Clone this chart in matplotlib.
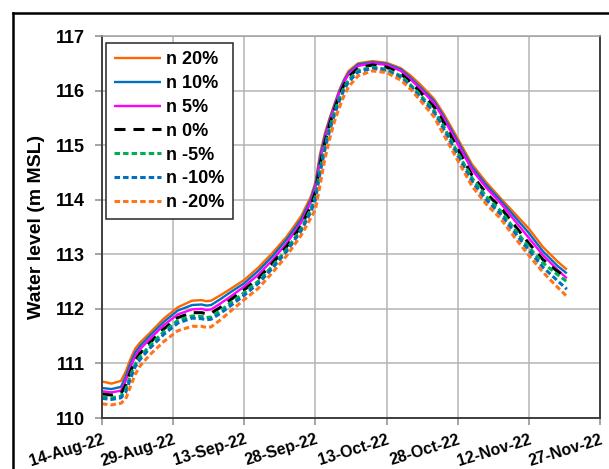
import numpy as np
import matplotlib
matplotlib.use("Agg")
import matplotlib.pyplot as plt
from matplotlib.lines import Line2D

plt.rcParams['font.family'] = ['Liberation Sans', 'DejaVu Sans']
plt.rcParams['font.weight'] = 'bold'

start_date = np.datetime64('2022-08-14')
days = [0, 2, 4, 5, 6, 7, 8, 10, 13, 16, 19, 21, 22, 23, 25, 27, 30, 33, 36, 39,
        42, 44, 45, 46, 47, 48, 49, 50, 51, 52, 54, 57, 60, 63, 65, 67, 70, 72, 75, 78,
        81, 84, 87, 90, 93, 96, 98]

n_p20 = [110.67, 110.63, 110.68, 110.85, 111.08, 111.27, 111.38, 111.55, 111.82, 112.03,
         112.15, 112.16, 112.14, 112.15, 112.25, 112.36, 112.53, 112.76, 113.03, 113.33,
         113.70, 114.05, 114.32, 114.85, 115.22, 115.50, 115.75, 116.00, 116.20, 116.36,
         116.50, 116.54, 116.51, 116.41, 116.28, 116.12, 115.85, 115.58, 115.12, 114.65,
         114.32, 114.03, 113.75, 113.47, 113.13, 112.87, 112.72]
n_p10 = [110.55, 110.53, 110.57, 110.76, 111.00, 111.20, 111.32, 111.50, 111.76, 111.97,
         112.07, 112.08, 112.06, 112.07, 112.18, 112.30, 112.47, 112.70, 112.97, 113.28,
         113.64, 114.00, 114.28, 114.80, 115.17, 115.47, 115.73, 115.98, 116.18, 116.33,
         116.48, 116.52, 116.49, 116.39, 116.24, 116.07, 115.81, 115.53, 115.07, 114.60,
         114.27, 113.99, 113.69, 113.39, 113.05, 112.79, 112.65]
n_p5 = [110.49, 110.47, 110.50, 110.68, 110.93, 111.13, 111.26, 111.44, 111.70, 111.90,
        111.99, 112.00, 111.98, 111.99, 112.10, 112.22, 112.41, 112.63, 112.90, 113.21,
        113.58, 113.95, 114.22, 114.73, 115.12, 115.43, 115.70, 115.95, 116.15, 116.30,
        116.45, 116.50, 116.47, 116.36, 116.21, 116.04, 115.77, 115.49, 115.02, 114.55,
        114.22, 113.94, 113.62, 113.30, 112.98, 112.72, 112.56]
n_0 = [110.44, 110.42, 110.45, 110.60, 110.85, 111.05, 111.18, 111.37, 111.63, 111.84,
       111.93, 111.93, 111.91, 111.92, 112.03, 112.16, 112.35, 112.56, 112.84, 113.15,
       113.52, 113.88, 114.14, 114.65, 115.05, 115.38, 115.65, 115.90, 116.10, 116.25,
       116.41, 116.47, 116.43, 116.31, 116.16, 115.98, 115.70, 115.42, 114.93, 114.45,
       114.12, 113.86, 113.53, 113.20, 112.90, 112.69, 112.57]
n_m5 = [110.39, 110.37, 110.40, 110.52, 110.78, 110.99, 111.12, 111.32, 111.58, 111.79,
        111.87, 111.86, 111.84, 111.85, 111.97, 112.10, 112.30, 112.51, 112.79, 113.10,
        113.47, 113.82, 114.06, 114.58, 114.98, 115.32, 115.60, 115.85, 116.05, 116.20,
        116.37, 116.43, 116.39, 116.27, 116.11, 115.93, 115.64, 115.35, 114.86, 114.40,
        114.06, 113.80, 113.46, 113.13, 112.84, 112.63, 112.50]
n_m10 = [110.36, 110.34, 110.37, 110.47, 110.72, 110.94, 111.07, 111.27, 111.53, 111.74,
         111.83, 111.82, 111.80, 111.81, 111.92, 112.05, 112.25, 112.47, 112.75, 113.06,
         113.43, 113.77, 114.00, 114.50, 114.92, 115.27, 115.55, 115.80, 116.01, 116.16,
         116.34, 116.41, 116.37, 116.24, 116.08, 115.89, 115.60, 115.30, 114.80, 114.34,
         114.00, 113.74, 113.40, 113.07, 112.76, 112.52, 112.36]
n_m20 = [110.26, 110.24, 110.27, 110.35, 110.58, 110.80, 110.95, 111.15, 111.40, 111.60,
         111.68, 111.68, 111.66, 111.67, 111.80, 111.95, 112.17, 112.38, 112.67, 112.98,
         113.35, 113.66, 113.82, 114.28, 114.75, 115.12, 115.43, 115.68, 115.90, 116.07,
         116.27, 116.36, 116.33, 116.19, 116.03, 115.83, 115.52, 115.20, 114.72, 114.25,
         113.92, 113.66, 113.31, 112.98, 112.67, 112.40, 112.23]

series_labels = ['n 20%', 'n 10%', 'n 5%', 'n 0%', 'n -5%', 'n -10%', 'n -20%']
series_values = [n_p20, n_p10, n_p5, n_0, n_m5, n_m10, n_m20]
series_colors = ['#FF6600', '#0070C0', '#FF00FF', '#000000', '#00B050', '#0070C0', '#FF7518']
series_styles = ['-', '-', '-', (0, (3.6, 2.6)), (0, (1.8, 1.0)), (0, (1.8, 1.0)), (0, (1.8, 1.0))]

xtick_labels = ['14-Aug-22', '29-Aug-22', '13-Sep-22', '28-Sep-22', '13-Oct-22',
                '28-Oct-22', '12-Nov-22', '27-Nov-22']
ytick_values = [110, 111, 112, 113, 114, 115, 116, 117]

W, H = 609, 469
fig = plt.figure(figsize=(W / 100, H / 100), dpi=100)
ax = fig.add_axes([102 / W, 1 - 418 / H, (600 - 102) / W, (418 - 36) / H])

dates = start_date + np.array(days).astype('timedelta64[D]')
for vals, lab, col, ls in zip(series_values, series_labels, series_colors, series_styles):
    lw = 1.7 if ls == '-' else 2.2
    ax.plot(dates, vals, color=col, linestyle=ls, lw=lw, label=lab,
            solid_capstyle='butt', dash_capstyle='butt', solid_joinstyle='round')

tick_dates = [start_date + np.timedelta64(15 * i, 'D') for i in range(len(xtick_labels))]
ax.set_xlim(tick_dates[0], tick_dates[-1])
ax.set_xticks(tick_dates)
ax.set_xticklabels(xtick_labels, rotation=17, ha='right', va='top',
                   rotation_mode='anchor', fontsize=11.5, fontweight='bold')
ax.set_ylim(110, 117)
ax.set_yticks(ytick_values)
ax.set_yticklabels([str(v) for v in ytick_values], fontsize=13, fontweight='bold')

ax.grid(True, color='#B4B4B4', lw=1.1)
ax.set_axisbelow(True)
ax.tick_params(axis='y', length=5, width=1.1, color='#8C8C8C', pad=7)
ax.tick_params(axis='x', length=5, width=1.1, color='#8C8C8C', pad=5)
for s in ['left', 'bottom', 'right']:
    ax.spines[s].set_color('#3F3F3F')
    ax.spines[s].set_linewidth(1.4)
ax.spines['top'].set_color('#A0A0A0')
ax.spines['top'].set_linewidth(1.1)

ax.set_ylabel('Water level (m MSL)', fontsize=14, fontweight='bold')
ax.yaxis.set_label_coords((45 - 102) / 498, 0.5)

leg = ax.legend(loc='upper left', bbox_to_anchor=(106 / W, 1 - 43 / H),
                bbox_transform=fig.transFigure, borderaxespad=0,
                handlelength=2.6, handletextpad=0.28,
                labelspacing=0.38, borderpad=0.45, fancybox=False,
                framealpha=1, edgecolor='#262626', prop={'weight': 'bold', 'size': 13})
leg.get_frame().set_linewidth(1.1)

# outer chart frame
fig.add_artist(Line2D([13 / W, 1], [1 - 13 / H, 1 - 13 / H], transform=fig.transFigure,
                      color='black', lw=1.8))
fig.add_artist(Line2D([13 / W, 13 / W], [0, 1 - 13 / H], transform=fig.transFigure,
                      color='black', lw=1.8))

fig.savefig('out.png', dpi=100)
